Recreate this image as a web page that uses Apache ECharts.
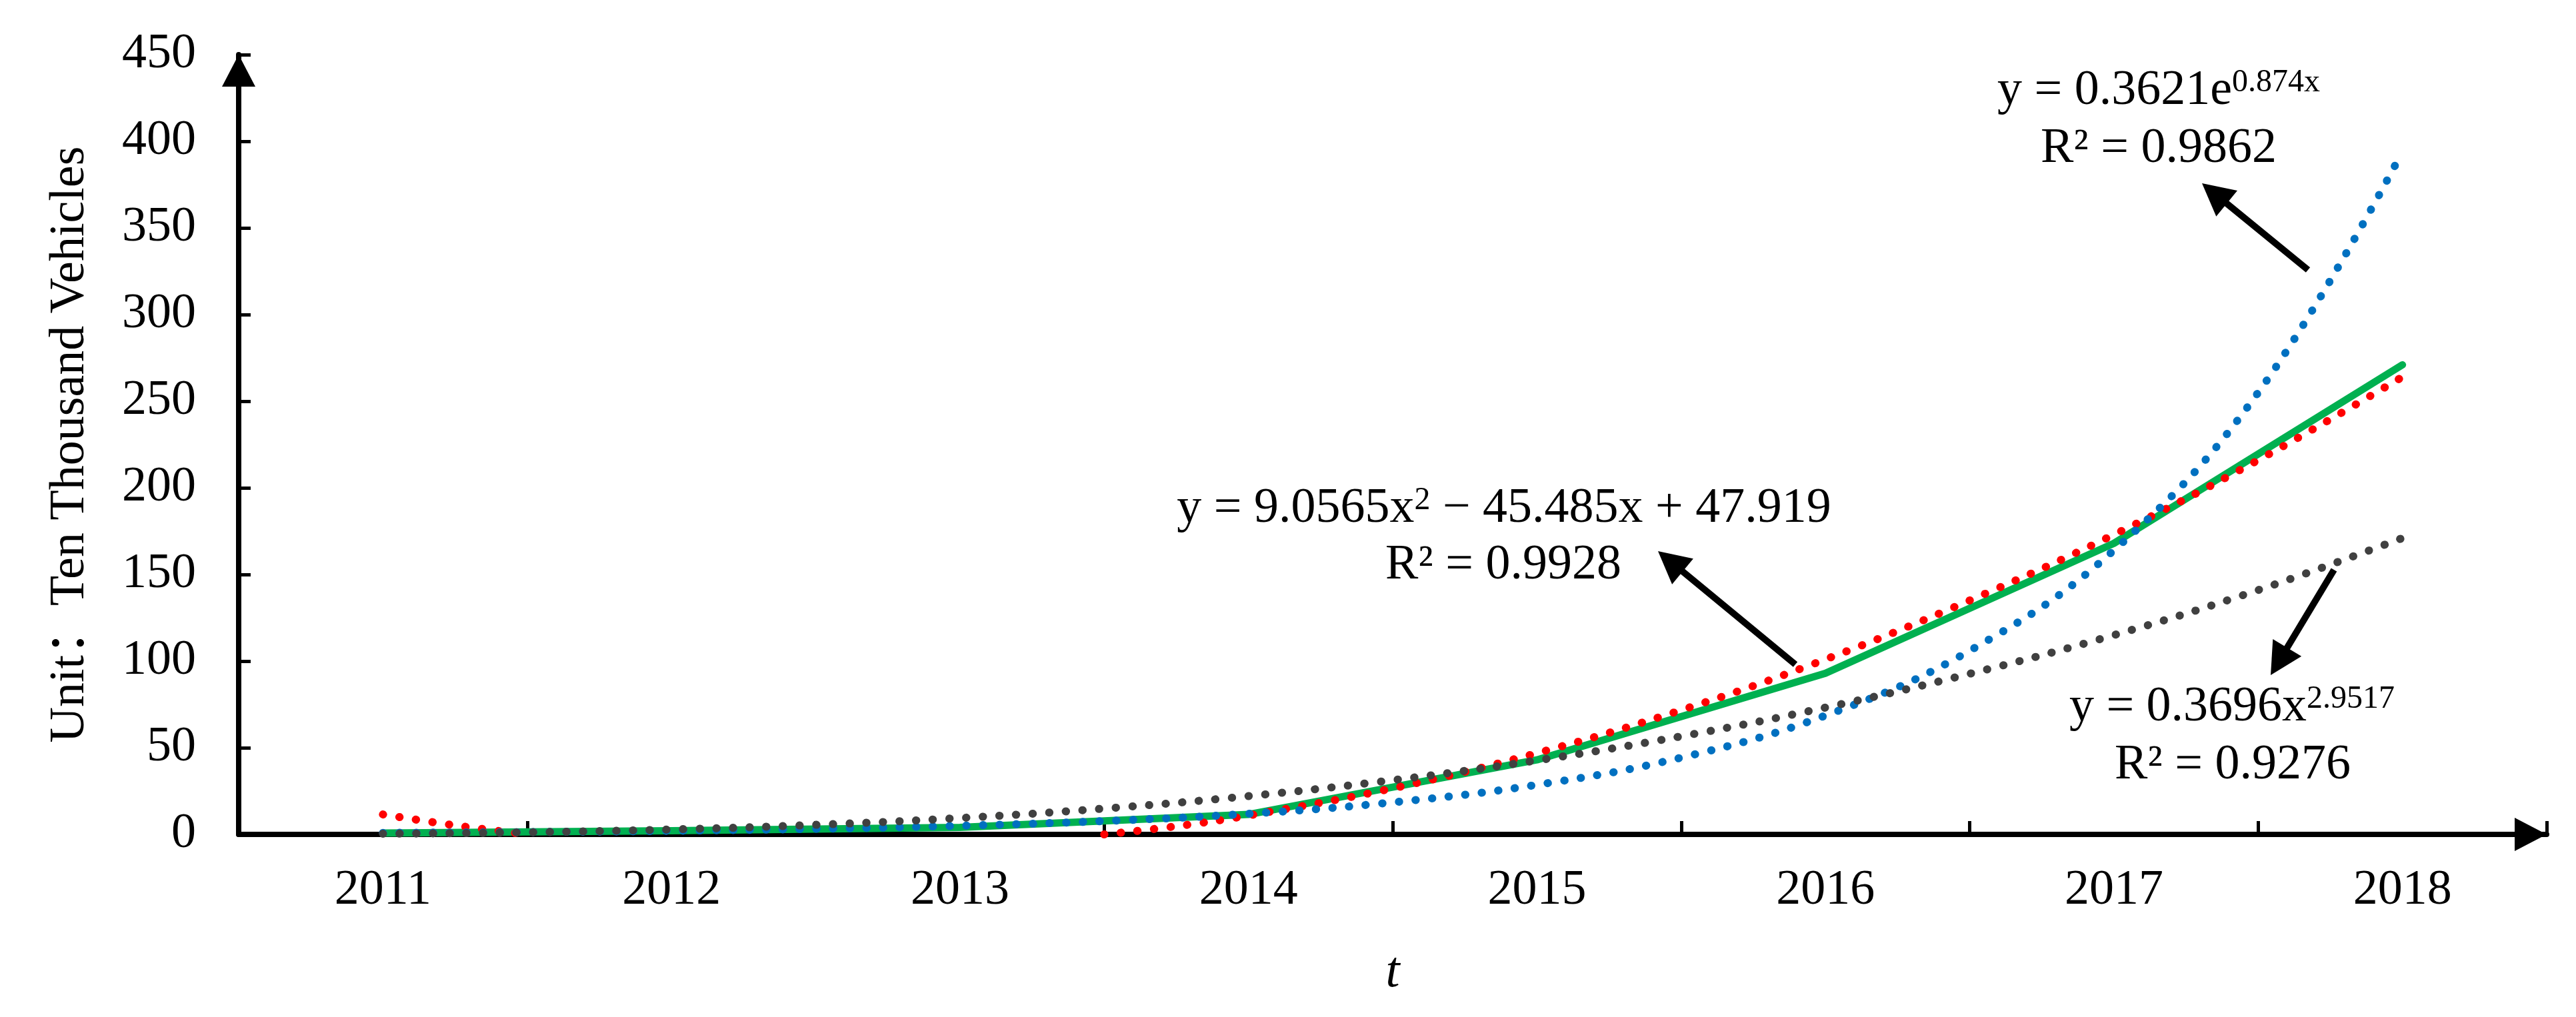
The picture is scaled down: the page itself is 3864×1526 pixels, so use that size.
<!DOCTYPE html>
<html>
<head>
<meta charset="utf-8">
<script src="https://cdn.jsdelivr.net/npm/echarts@6/dist/echarts.min.js"></script>
<style>
html,body{margin:0;padding:0;background:#ffffff;}
#chart{width:3864px;height:1526px;}
</style>
</head>
<body>
<div id="chart"></div>
<script>
// ---- data ----
const years = ['2011', '2012', '2013', '2014', '2015', '2016', '2017', '2018'];
const actualValues = [0.8, 2.1, 4.0, 11.5, 43, 93, 168, 271];

// trend lines sampled along the category position (1 = 2011 ... 8 = 2018)
const trendX = [1, 1.5, 2, 2.5, 3, 3.5, 4, 4.5, 5, 5.5, 6, 6.5, 7, 7.5, 8];
const expTrend = [0.87, 1.34, 2.08, 3.22, 4.98, 7.72, 11.9, 18.5, 28.6, 44.3, 68.6, 106, 164, 255, 394];
const powerTrend = [0.37, 1.22, 2.86, 5.52, 9.46, 14.9, 22.1, 31.3, 42.7, 56.6, 73.2, 92.7, 115, 141, 171];
const polyX = [1, 1.25, 1.5, 2.5, 3.5, 3.75, 4, 4.5, 5, 5.5, 6, 6.5, 7, 7.5, 8];
const polyTrend = [11.5, 5.2, 0, null, 0, 4.7, 10.9, 26.6, 46.9, 71.7, 101, 135, 173, 216, 264];

const yTicks = { min: 0, max: 450, interval: 50 };

const expLabel = ['y = 0.3621e', '0.874x', 'R² = 0.9862'];
const polyLabel = ['y = 9.0565x', '2', ' − 45.485x + 47.919', 'R² = 0.9928'];
const powerLabel = ['y = 0.3696x', '2.9517', 'R² = 0.9276'];

// ---- chart ----
const FONT = '"Liberation Serif", "Times New Roman", serif';
const FONT_CJK = '"Liberation Serif", "Noto Sans CJK SC", serif';

function pairs(xs, ys) { return xs.map((x, i) => [x, ys[i]]); }

const dotted = (color) => ({
  color: color, width: 12, type: [0.5, 24.5], cap: 'round'
});

const richStyles = {
  b: { fontSize: 74, fontFamily: FONT, lineHeight: 90, fill: '#000' },
  s: { fontSize: 48, fontFamily: FONT, verticalAlign: 'top', lineHeight: 64, height: 64, fill: '#000' }
};

function textLine(x, y, text) {
  return {
    type: 'text', z: 100,
    style: { x: x, y: y, text: text, rich: richStyles, align: 'center', verticalAlign: 'middle', fill: '#000', fontFamily: FONT, fontSize: 74 }
  };
}

function arrow(tail, tip) {
  const dx = tip[0] - tail[0], dy = tip[1] - tail[1];
  const L = Math.hypot(dx, dy);
  const ux = dx / L, uy = dy / L;
  const headLen = 48, headW = 50;
  const bx = tip[0] - ux * headLen, by = tip[1] - uy * headLen;
  const px = -uy * headW / 2, py = ux * headW / 2;
  return [
    { type: 'line', z: 100, shape: { x1: tail[0], y1: tail[1], x2: bx + ux * 4, y2: by + uy * 4 },
      style: { stroke: '#000', lineWidth: 10 } },
    { type: 'polygon', z: 100, shape: { points: [tip, [bx + px, by + py], [bx - px, by - py]] },
      style: { fill: '#000' } }
  ];
}

const graphics = [
  textLine(3238, 137, '{b|' + expLabel[0] + '}{s|' + expLabel[1] + '}'),
  textLine(3238, 224, '{b|' + expLabel[2] + '}'),
  textLine(2256, 764, '{b|' + polyLabel[0] + '}{s|' + polyLabel[1] + '}{b|' + polyLabel[2] + '}'),
  textLine(2255, 849, '{b|' + polyLabel[3] + '}'),
  textLine(3348, 1062, '{b|' + powerLabel[0] + '}{s|' + powerLabel[1] + '}'),
  textLine(3349, 1149, '{b|' + powerLabel[2] + '}')
].concat(arrow([3462, 405], [3303, 275]))
 .concat(arrow([2693, 997], [2487, 827]))
 .concat(arrow([3501, 855], [3406, 1013]));

const chart = echarts.init(document.getElementById('chart'), null, { renderer: 'canvas' });
chart.setOption({
  animation: false,
  backgroundColor: '#ffffff',
  grid: { left: 358, right: 44, top: 82, bottom: 274, containLabel: false },
  xAxis: [
    {
      type: 'category', data: years, boundaryGap: true,
      axisLine: { show: true, lineStyle: { color: '#000', width: 8 }, symbol: ['none', 'triangle'], symbolSize: [50, 48], symbolOffset: [0, -24] },
      axisTick: { show: true, inside: true, length: 20, interval: 0, lineStyle: { color: '#000', width: 5 } },
      axisLabel: { color: '#000', fontSize: 74, fontFamily: FONT, margin: 48, interval: 0 },
      splitLine: { show: false },
      name: 't', nameLocation: 'middle', nameGap: 170,
      nameTextStyle: { color: '#000', fontSize: 76, fontFamily: FONT, fontStyle: 'italic' }
    },
    { type: 'value', min: 0.5, max: 8.5, show: false, splitLine: { show: false } }
  ],
  yAxis: {
    type: 'value', min: yTicks.min, max: yTicks.max, interval: yTicks.interval,
    axisLine: { show: true, lineStyle: { color: '#000', width: 8 }, symbol: ['none', 'triangle'], symbolSize: [50, 48], symbolOffset: [0, -24] },
    axisTick: { show: true, inside: true, length: 18, lineStyle: { color: '#000', width: 5 } },
    axisLabel: { color: '#000', fontSize: 74, fontFamily: FONT, margin: 64 },
    splitLine: { show: false },
    name: 'Unit：Ten Thousand Vehicles', nameLocation: 'middle', nameGap: 215, nameRotate: 90,
    nameTextStyle: { color: '#000', fontSize: 74, fontFamily: FONT_CJK }
  },
  series: [
    { name: 'Actual', type: 'line', xAxisIndex: 0, data: actualValues, showSymbol: false, symbol: 'none',
      lineStyle: { color: '#00B050', width: 11, cap: 'round', join: 'round' }, z: 2 },
    { name: 'Poly', type: 'line', xAxisIndex: 1, data: pairs(polyX, polyTrend), showSymbol: false, symbol: 'none',
      smooth: 0.4, connectNulls: false, lineStyle: dotted('#FF0000'), z: 3 },
    { name: 'Exp', type: 'line', xAxisIndex: 1, data: pairs(trendX, expTrend), showSymbol: false, symbol: 'none',
      smooth: 0.4, lineStyle: dotted('#0070C0'), z: 4 },
    { name: 'Power', type: 'line', xAxisIndex: 1, data: pairs(trendX, powerTrend), showSymbol: false, symbol: 'none',
      smooth: 0.4, lineStyle: dotted('#404040'), z: 5 }
  ],
  graphic: graphics
});
</script>
</body>
</html>
